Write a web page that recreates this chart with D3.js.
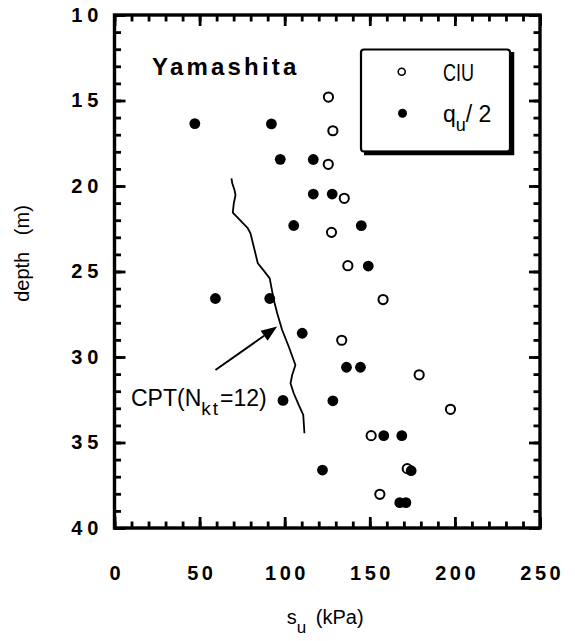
<!DOCTYPE html>
<html>
<head>
<meta charset="utf-8">
<script src="https://cdn.jsdelivr.net/npm/d3@7/dist/d3.min.js"></script>
<style>
  html, body { margin: 0; padding: 0; background: #fff; }
  svg { display: block; }
  text { font-family: "Liberation Sans", Arial, Helvetica, sans-serif; }
</style>
</head>
<body>
<svg id="chart" width="575" height="641"></svg>
<script>
// ---- data (su in kPa, depth in m) ----
const ciuSu    = [125.7, 128.3, 125.6, 135.0, 127.5, 137.1, 157.8, 133.5, 179.0, 197.4, 150.8, 172.0, 155.9];
const ciuDepth = [14.8, 16.77, 18.73, 20.72, 22.71, 24.66, 26.64, 29.02, 31.04, 33.06, 34.60, 36.53, 38.03];

const quSu    = [47.2, 92.2, 97.4, 116.8, 116.8, 127.9, 105.3, 145.0, 149.1, 59.3, 91.2, 110.3, 99.0, 128.3, 136.3, 144.5, 158.2, 168.8, 122.2, 174.3, 167.6, 171.2];
const quDepth = [16.35, 16.37, 18.44, 18.45, 20.47, 20.47, 22.31, 22.32, 24.68, 26.58, 26.58, 28.61, 32.54, 32.56, 30.60, 30.60, 34.60, 34.60, 36.61, 36.65, 38.52, 38.52];

const cptSu    = [68.7, 69.2, 70.5, 71.1, 70.1, 69.5, 78.3, 79.9, 82.3, 84.2, 87.7, 91.2, 93.6, 95.6, 98.5, 102.4, 106.3, 104.4, 103.4, 105.3, 108.3, 110.9, 111.6];
const cptDepth = [19.55, 19.84, 20.23, 20.53, 21.01, 21.56, 22.47, 22.77, 23.74, 24.52, 24.95, 25.40, 26.67, 27.44, 28.42, 29.40, 30.47, 31.05, 31.54, 32.12, 32.81, 33.39, 34.46];

const arrowFrom = [59.3, 30.76];   // [su, depth]
const arrowTo   = [95.6, 28.22];

const xTicks = [0, 50, 100, 150, 200, 250];
const yTicks = [10, 15, 20, 25, 30, 35, 40];
const xMinor = d3.range(0, 251, 10);
const yMinor = d3.range(10, 41, 1);

// ---- layout ----
const L = 114.5, R = 540, T = 15, B = 528;
const x = d3.scaleLinear().domain([0, 250]).range([L, R]);
const y = d3.scaleLinear().domain([10, 40]).range([T, B]);

const svg = d3.select("#chart");

// ticks (inward, all four sides)
function tickAxis(axisFn, scale, vals, size, tr) {
  const g = svg.append("g").attr("transform", tr)
    .call(axisFn(scale).tickValues(vals).tickSize(-size).tickFormat(""));
  g.select(".domain").remove();
  g.selectAll(".tick line").attr("stroke", "#000").attr("stroke-width", 2.8);
  return g;
}
tickAxis(d3.axisBottom, x, xMinor, 6.5, `translate(0,${B})`);
tickAxis(d3.axisBottom, x, xTicks, 11, `translate(0,${B})`);
tickAxis(d3.axisTop, x, xMinor, 6.5, `translate(0,${T})`);
tickAxis(d3.axisTop, x, xTicks, 11, `translate(0,${T})`);
tickAxis(d3.axisLeft, y, yMinor, 6.5, `translate(${L},0)`);
tickAxis(d3.axisLeft, y, yTicks, 11, `translate(${L},0)`);
tickAxis(d3.axisRight, y, yMinor, 6.5, `translate(${R},0)`);
tickAxis(d3.axisRight, y, yTicks, 11, `translate(${R},0)`);

// frame
svg.append("rect").attr("x", L).attr("y", T).attr("width", R - L).attr("height", B - T)
  .attr("fill", "none").attr("stroke", "#000").attr("stroke-width", 3.4);

// tick labels
const xl = svg.append("g").attr("transform", `translate(0,${B})`)
  .call(d3.axisBottom(x).tickValues(xTicks).tickSize(0).tickPadding(38).tickFormat(d3.format("d")));
xl.select(".domain").remove();
xl.selectAll("text").attr("font-size", 20).attr("font-weight", "bold").attr("fill", "#000")
  .attr("letter-spacing", 3.5).attr("dx", 1.75)
  .style("font-family", '"Liberation Sans", Arial, sans-serif');

const yl = svg.append("g").attr("transform", `translate(${L},0)`)
  .call(d3.axisLeft(y).tickValues(yTicks).tickSize(0).tickPadding(16).tickFormat(d3.format("d")));
yl.select(".domain").remove();
yl.selectAll("text").attr("font-size", 20).attr("font-weight", "bold").attr("fill", "#000")
  .attr("letter-spacing", 5).attr("dx", 5)
  .style("font-family", '"Liberation Sans", Arial, sans-serif');

// axis titles
const xt = svg.append("text").attr("x", (L + R) / 2 - 2).attr("y", 624)
  .attr("text-anchor", "middle").attr("font-size", 20).attr("fill", "#000");
xt.append("tspan").text("s");
xt.append("tspan").attr("dy", 9).attr("font-size", 17).text("u");
xt.append("tspan").attr("dy", -9).text("\u2009 (kPa)");

svg.append("text").attr("transform", `translate(29,${(T + B) / 2 - 18}) rotate(-90)`)
  .attr("text-anchor", "middle").attr("font-size", 20).attr("fill", "#000")
  .attr("xml:space", "preserve").text("depth   (m)");

// CPT profile line
svg.append("path")
  .datum(cptSu.map((s, i) => [s, cptDepth[i]]))
  .attr("fill", "none").attr("stroke", "#000").attr("stroke-width", 1.8)
  .attr("stroke-linejoin", "round")
  .attr("d", d3.line().x(d => x(d[0])).y(d => y(d[1])));

// arrow
const ax0 = x(arrowFrom[0]), ay0 = y(arrowFrom[1]);
const ax1 = x(arrowTo[0]), ay1 = y(arrowTo[1]);
const ang = Math.atan2(ay1 - ay0, ax1 - ax0);
const hl = 16, hw = 6;
const bx = ax1 - hl * Math.cos(ang), by = ay1 - hl * Math.sin(ang);
svg.append("line").attr("x1", ax0).attr("y1", ay0).attr("x2", bx).attr("y2", by)
  .attr("stroke", "#000").attr("stroke-width", 2);
svg.append("path")
  .attr("d", `M${ax1},${ay1} L${bx + hw * Math.sin(ang)},${by - hw * Math.cos(ang)} L${bx - hw * Math.sin(ang)},${by + hw * Math.cos(ang)} Z`)
  .attr("fill", "#000");

// CPT label
const ct = svg.append("text").attr("x", 131).attr("y", 406).attr("font-size", 23).attr("fill", "#000");
ct.append("tspan").text("CPT(N");
ct.append("tspan").attr("dy", 9).attr("font-size", 19).attr("letter-spacing", 2).text("kt");
ct.append("tspan").attr("dy", -9).text("=12)");

// data points
svg.append("g").selectAll("circle").data(ciuSu.map((s, i) => [s, ciuDepth[i]])).join("circle")
  .attr("cx", d => x(d[0])).attr("cy", d => y(d[1])).attr("r", 4.6)
  .attr("fill", "#fff").attr("stroke", "#000").attr("stroke-width", 2);
svg.append("g").selectAll("circle").data(quSu.map((s, i) => [s, quDepth[i]])).join("circle")
  .attr("cx", d => x(d[0])).attr("cy", d => y(d[1])).attr("r", 5.4)
  .attr("fill", "#000");

// title
svg.append("text").attr("x", 152).attr("y", 75).attr("font-size", 24).attr("font-weight", "bold")
  .attr("fill", "#000").attr("letter-spacing", 3.2).text("Yamashita");

// legend
const lg = svg.append("g");
lg.append("path").attr("d", "M364,153 L512,153 L512,52")
  .attr("fill", "none").attr("stroke", "#000").attr("stroke-width", 4.5);
lg.append("rect").attr("x", 361).attr("y", 49.5).attr("width", 149).attr("height", 102)
  .attr("rx", 3).attr("fill", "none").attr("stroke", "#000").attr("stroke-width", 2.2);
lg.append("circle").attr("cx", 401.7).attr("cy", 71.7).attr("r", 3.5)
  .attr("fill", "#fff").attr("stroke", "#000").attr("stroke-width", 1.6);
lg.append("circle").attr("cx", 402.5).attr("cy", 113.3).attr("r", 4.5).attr("fill", "#000");
lg.append("text").attr("x", 443).attr("y", 81).attr("font-size", 23).attr("fill", "#000")
  .attr("textLength", 31).attr("lengthAdjust", "spacingAndGlyphs").text("CIU");
const qt = lg.append("text").attr("x", 443).attr("y", 122).attr("font-size", 23).attr("fill", "#000");
qt.append("tspan").text("q");
qt.append("tspan").attr("dy", 9).attr("font-size", 18).text("u");
qt.append("tspan").attr("dy", -9).text("/ 2");
</script>
</body>
</html>
